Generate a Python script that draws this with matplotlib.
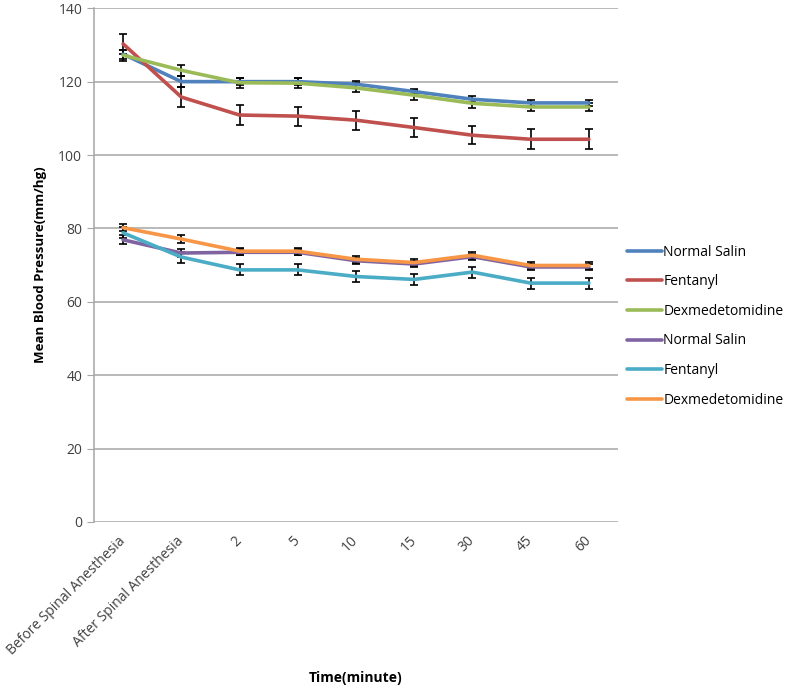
import matplotlib.pyplot as plt

plt.rcParams['font.family'] = ['Open Sans', 'DejaVu Sans']

time_labels = ["Before Spinal Anesthesia", "After Spinal Anesthesia",
               "2", "5", "10", "15", "30", "45", "60"]

series_names = ["Normal Salin", "Fentanyl", "Dexmedetomidine",
                "Normal Salin", "Fentanyl", "Dexmedetomidine"]

# upper group
ns_1 = [127.5, 120.0, 120.0, 120.0, 119.3, 117.3, 115.2, 114.2, 114.2]
fe_1 = [130.3, 115.8, 110.9, 110.6, 109.5, 107.5, 105.4, 104.3, 104.3]
dx_1 = [127.2, 123.1, 119.7, 119.6, 118.3, 116.3, 114.1, 113.1, 113.1]
# lower group
ns_2 = [76.9, 73.3, 73.5, 73.5, 71.2, 70.3, 72.3, 69.5, 69.5]
fe_2 = [78.8, 72.2, 68.7, 68.7, 66.9, 66.1, 68.1, 65.1, 65.1]
dx_2 = [80.2, 77.1, 73.8, 73.8, 71.6, 70.7, 72.7, 69.9, 69.9]

ns_1_err = [1.2, 1.5, 1.0, 1.0, 1.0, 0.8, 0.8, 0.8, 0.8]
fe_1_err = [2.8, 2.8, 2.6, 2.6, 2.6, 2.7, 2.5, 2.7, 2.7]
dx_1_err = [1.5, 1.5, 1.3, 1.3, 1.2, 1.3, 1.2, 1.2, 1.2]
ns_2_err = [1.2, 1.0, 0.8, 0.8, 0.8, 0.8, 0.8, 0.8, 0.8]
fe_2_err = [1.5, 1.5, 1.5, 1.5, 1.5, 1.5, 1.5, 1.5, 1.5]
dx_2_err = [1.0, 1.0, 1.0, 1.0, 1.0, 1.0, 1.0, 1.0, 1.0]

colors = ["#4F81BD", "#C0504D", "#9BBB59", "#8064A2", "#4BACC6", "#F79646"]

values = [ns_1, fe_1, dx_1, ns_2, fe_2, dx_2]
errors = [ns_1_err, fe_1_err, dx_1_err, ns_2_err, fe_2_err, dx_2_err]

fig = plt.figure(figsize=(7.87, 6.88), dpi=100)
ax = fig.add_axes([0.1194, 0.2413, 0.6658, 0.7467])

x = list(range(len(time_labels)))
handles = []
for name, vals, err, c in zip(series_names, values, errors, colors):
    ax.errorbar(x, vals, yerr=err, fmt="none", ecolor="black",
                elinewidth=1.2, capsize=3, capthick=1.2, zorder=2)
    h, = ax.plot(x, vals, color=c, lw=2.6, label=name, zorder=3,
                 solid_capstyle="round")
    handles.append(h)

ax.set_xlim(-0.5, len(time_labels) - 0.5)
ax.set_ylim(0, 140)
ax.set_yticks(range(0, 141, 20))
ax.yaxis.grid(True, color="#A6A6A6", lw=1.1)
ax.set_axisbelow(True)
for s in ["top", "right", "bottom"]:
    ax.spines[s].set_visible(False)
ax.spines["left"].set_color("#A6A6A6")
ax.spines["left"].set_linewidth(1.1)
ax.tick_params(axis="y", length=5, color="#A6A6A6", labelsize=10,
               labelcolor="#404040")
ax.tick_params(axis="x", length=0, labelsize=10, labelcolor="#404040", pad=12)
ax.set_xticks(x)
ax.set_xticklabels(time_labels, rotation=45, ha="right", va="center",
                   rotation_mode="anchor")

ax.set_ylabel("Mean Blood Pressure(mm/hg)", fontsize=9.5, fontweight="bold",
              labelpad=8)
fig.text(0.452, 0.004, "Time(minute)", fontsize=10, fontweight="bold",
         ha="center", va="bottom")

fig.legend(handles=handles, loc="center left",
           bbox_to_anchor=(0.781, 0.526), frameon=False, fontsize=10,
           handlelength=2.5, handletextpad=0.1, labelspacing=1.05)

fig.savefig("out.png", dpi=100)
